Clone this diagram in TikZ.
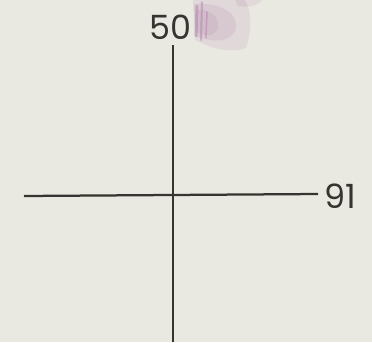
\documentclass[tikz,border=0pt]{standalone}
\usepackage{fontspec}
\setmainfont{Poppins}
\usepackage{tikz}
\usetikzlibrary{positioning}
\definecolor{paper}{RGB}{233,233,226}
\definecolor{ink}{RGB}{52,52,48}
\definecolor{stain}{RGB}{165,100,155}
\tikzset{
  axis/.style={
    line width=0.045cm,
    draw=ink
  },
  tick/.style={
    font=\fontsize{19}{22}\selectfont,
    text=ink,
    inner sep=0pt
  },
  blot/.style={
    fill=stain,
    opacity=0.12
  },
  streak/.style={
    draw=stain,
    opacity=0.35,
    line cap=round
  }
}

\begin{document}
\begin{tikzpicture}[x=0.02cm, y=-0.02cm]
    \fill[paper] (0,0) rectangle (372,342);
    \useasboundingbox (0,0) rectangle (372,342);
    % stain on the scan
    \fill[blot] (193,0) -- (245,0) .. controls (252,12) and (252,30) .. (246,48) .. controls (230,54) and (210,48) .. (195,40) -- cycle;
    \fill[blot] (194,4) .. controls (215,2) and (238,10) .. (236,28) .. controls (232,44) and (210,42) .. (195,36) -- cycle;
    \fill[blot] (196,10) .. controls (208,8) and (220,16) .. (218,28) .. controls (214,38) and (204,36) .. (196,32) -- cycle;
    \fill[blot] (235,0) -- (262,0) .. controls (258,6) and (248,8) .. (238,6) -- cycle;
    \draw[streak, line width=0.06cm] (197,6) -- (196,36);
    \draw[streak, line width=0.04cm] (202,2) -- (201,40);
    \draw[streak, line width=0.03cm] (207,12) -- (206,38);
    \coordinate (top) at (173,45);
    \coordinate (bottom) at (173,342);
    \coordinate (left) at (24,196);
    \coordinate (right) at (318,194);
    \node[tick] (lblY) at (170,27) {50};
    \node[tick, anchor=west] (lblX) at (324,196) {91};
    \draw[axis] (top) -- (bottom);
    \draw[axis] (left) -- (right);
\end{tikzpicture}
\end{document}
